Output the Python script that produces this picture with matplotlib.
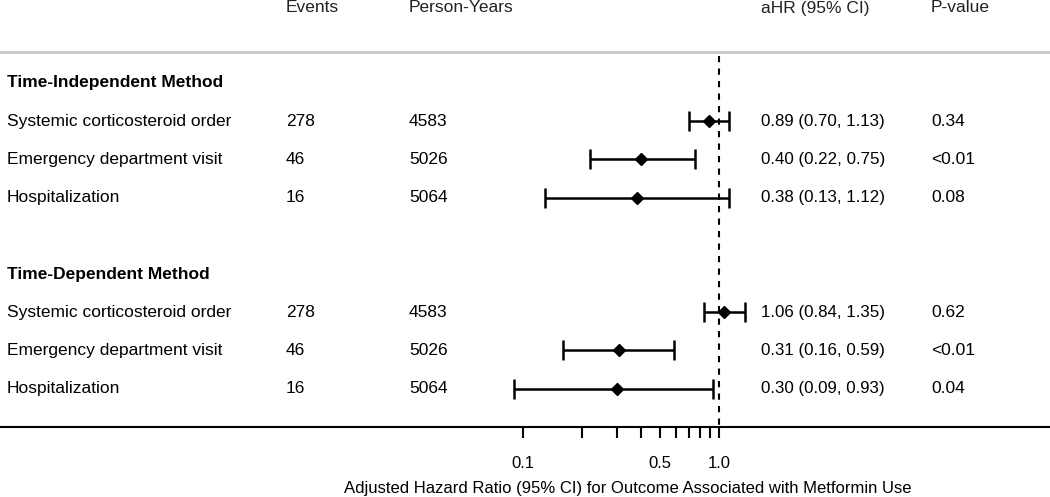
import matplotlib
matplotlib.use("Agg")
import matplotlib.pyplot as plt
import matplotlib.transforms as mtrans
import numpy as np

plt.rcParams['font.family'] = ['Liberation Sans', 'DejaVu Sans']

# ---- data ----
groups = ["Time-Independent Method", "Time-Dependent Method"]
outcomes = ["Systemic corticosteroid order", "Emergency department visit", "Hospitalization"]
events = [["278", "46", "16"], ["278", "46", "16"]]
person_years = [["4583", "5026", "5064"], ["4583", "5026", "5064"]]
hr = [[0.89, 0.40, 0.38], [1.06, 0.31, 0.30]]
ci_low = [[0.70, 0.22, 0.13], [0.84, 0.16, 0.09]]
ci_high = [[1.13, 0.75, 1.12], [1.35, 0.59, 0.93]]
hr_text = [["0.89 (0.70, 1.13)", "0.40 (0.22, 0.75)", "0.38 (0.13, 1.12)"],
           ["1.06 (0.84, 1.35)", "0.31 (0.16, 0.59)", "0.30 (0.09, 0.93)"]]
pvals = [["0.34", "<0.01", "0.08"], ["0.62", "<0.01", "0.04"]]
headers = ["Events", "Person-Years", "aHR (95% CI)", "P-value"]
major_ticks = [0.1, 0.5, 1.0]
major_labels = ["0.1", "0.5", "1.0"]
minor_ticks = [0.2, 0.3, 0.4, 0.6, 0.7, 0.8, 0.9]
xlabel = "Adjusted Hazard Ratio (95% CI) for Outcome Associated with Metformin Use"

# ---- layout (pixels) ----
W, H = 1050, 497
axis_y = 427
x_one = 719.0
px_per_decade = 196.0

fig = plt.figure(figsize=(W / 100, H / 100), dpi=100)
ax = fig.add_axes([0, (H - axis_y) / H, 1, axis_y / H])
ax.set_xscale('log')
ax.set_xlim(10 ** (-x_one / px_per_decade), 10 ** ((W - x_one) / px_per_decade))
ax.set_ylim(axis_y, 0)

# pixel-x, data-y transform for table text
tpx = mtrans.blended_transform_factory(
    mtrans.Affine2D().scale(1 / W, 1) + ax.transAxes, ax.transData)

fs = 12.5
fs_num = 12.2
col_x = [286, 409, 761, 931]
header_y = 8
for hx, h in zip(col_x, headers):
    ax.text(hx, header_y, h, transform=tpx, fontsize=fs, va='center', ha='left',
            color='#222222', clip_on=False)

ax.axhline(52, color='#c8c8c8', lw=2)
ax.vlines(1.0, 56, axis_y, colors='black', linestyles=(0, (3, 3)), lw=1.5)

group_y = [83, 274]
row_step = 38.2
for g in range(2):
    ax.text(7, group_y[g], groups[g], transform=tpx, fontsize=fs, fontweight='bold',
            va='center', ha='left')
    for i in range(3):
        y = group_y[g] + row_step * (i + 1)
        ax.text(7, y, outcomes[i], transform=tpx, fontsize=fs, va='center', ha='left')
        ax.text(col_x[0], y, events[g][i], transform=tpx, fontsize=fs, va='center')
        ax.text(col_x[1], y, person_years[g][i], transform=tpx, fontsize=fs, va='center')
        ax.text(col_x[2], y, hr_text[g][i], transform=tpx, fontsize=fs_num, va='center')
        ax.text(col_x[3], y, pvals[g][i], transform=tpx, fontsize=fs, va='center')
        ax.errorbar(hr[g][i], y,
                    xerr=[[hr[g][i] - ci_low[g][i]], [ci_high[g][i] - hr[g][i]]],
                    fmt='D', color='black', ms=6.5, elinewidth=1.8, capsize=7,
                    capthick=1.8, zorder=3)

for s in ['top', 'left', 'right']:
    ax.spines[s].set_visible(False)
ax.spines['bottom'].set_linewidth(1.5)
ax.set_yticks([])
ax.set_xticks(major_ticks)
ax.set_xticklabels(major_labels)
ax.set_xticks(minor_ticks, minor=True)
ax.xaxis.set_minor_formatter(matplotlib.ticker.NullFormatter())
ax.tick_params(axis='x', which='both', direction='out', length=8, width=1.5,
               pad=13, labelsize=12)
ax.set_xlabel(xlabel, fontsize=12)
ax.xaxis.label.set_va('center')
ax.xaxis.set_label_coords(627.5 / W, (axis_y - 488) / axis_y)

fig.savefig("out.png", dpi=100)
